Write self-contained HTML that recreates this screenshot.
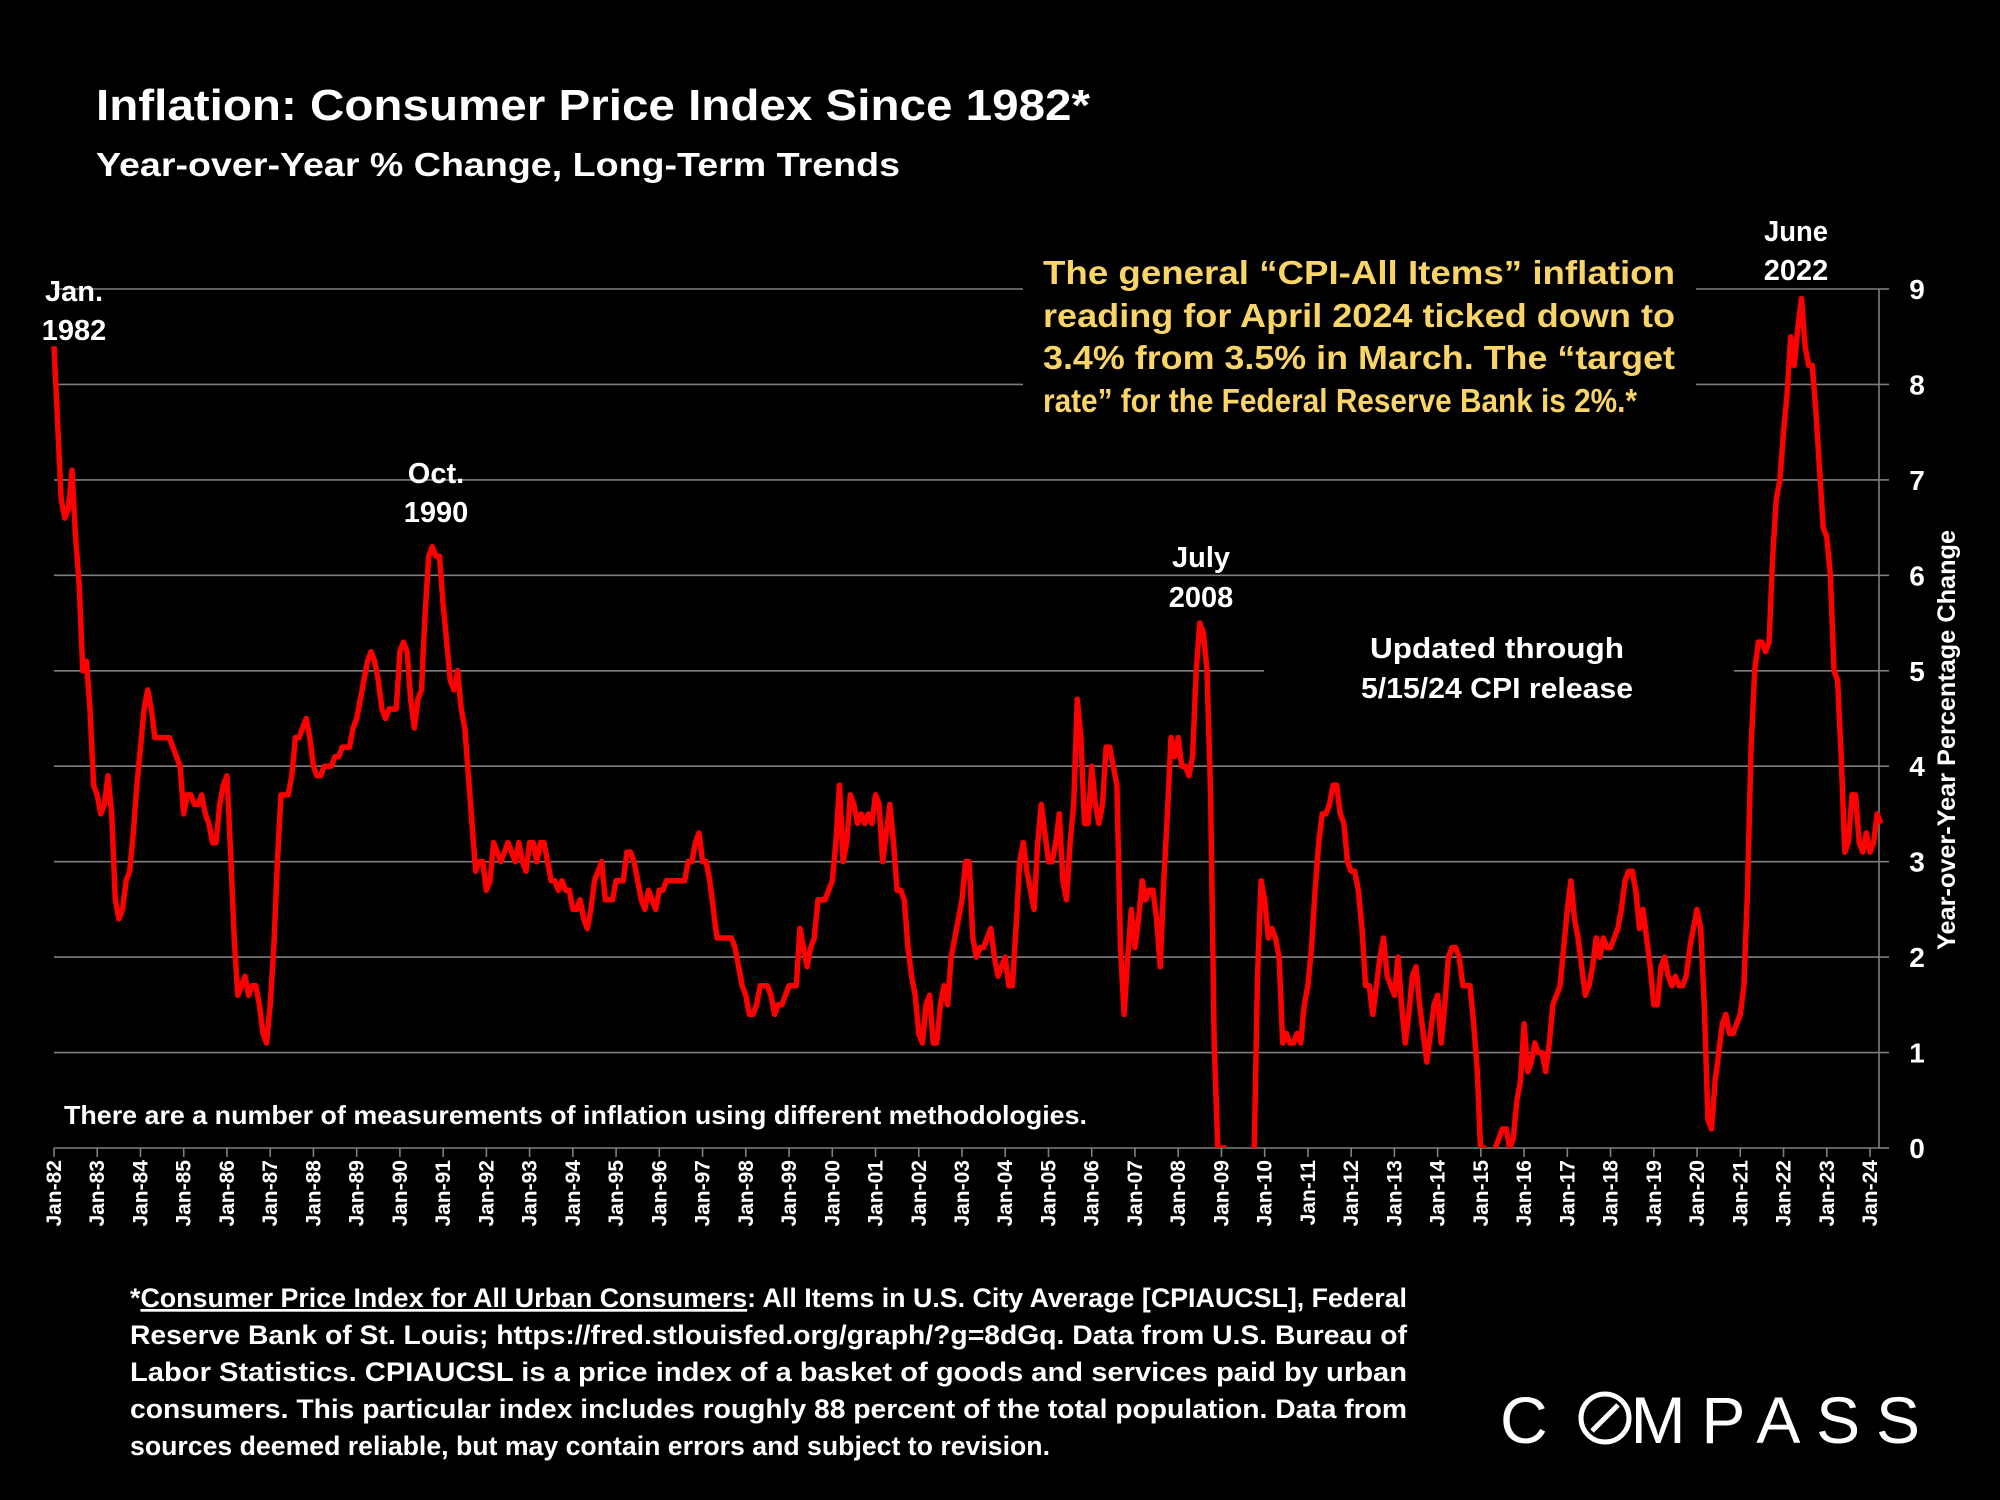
<!DOCTYPE html>
<html><head><meta charset="utf-8"><style>
html,body{margin:0;padding:0;background:#000;}
svg{display:block;font-family:"Liberation Sans",sans-serif;font-weight:bold;}
</style></head><body>
<svg id="chart" width="2000" height="1500" viewBox="0 0 2000 1500">
<rect width="2000" height="1500" fill="#000"/>
<text x="96" y="120" font-size="44" fill="#fff" textLength="994" lengthAdjust="spacingAndGlyphs">Inflation: Consumer Price Index Since 1982*</text>
<text x="96" y="176" font-size="33" fill="#fff" textLength="804" lengthAdjust="spacingAndGlyphs">Year-over-Year % Change, Long-Term Trends</text>
<g id="grid"></g>
<g id="xaxis"></g>
<g id="yaxis"></g>
<defs><clipPath id="plotclip"><rect x="40" y="250" width="1850" height="898"/></clipPath></defs>
<g id="series" clip-path="url(#plotclip)"></g>
<g>
<rect x="1030" y="240" width="660" height="180" fill="#000"/>
<g font-size="33" fill="#f9d466">
<text x="1043" y="284" textLength="632" lengthAdjust="spacingAndGlyphs">The general “CPI-All Items” inflation</text>
<text x="1043" y="327" textLength="632" lengthAdjust="spacingAndGlyphs">reading for April 2024 ticked down to</text>
<text x="1043" y="369" textLength="632" lengthAdjust="spacingAndGlyphs">3.4% from 3.5% in March. The “target</text>
<text x="1043" y="412" textLength="594" lengthAdjust="spacingAndGlyphs">rate” for the Federal Reserve Bank is 2%.*</text>
</g></g>
<rect x="1264" y="630" width="470" height="80" fill="#000"/>
<g font-size="29" fill="#fff" text-anchor="middle">
<text x="1796" y="241" textLength="64" lengthAdjust="spacingAndGlyphs">June</text>
<text x="1796" y="280">2022</text>
<text x="74" y="301">Jan.</text>
<text x="74" y="340">1982</text>
<text x="436" y="483">Oct.</text>
<text x="436" y="522">1990</text>
<text x="1201" y="567">July</text>
<text x="1201" y="607">2008</text>
<text x="1497" y="658" textLength="254" lengthAdjust="spacingAndGlyphs">Updated through</text>
<text x="1497" y="698" textLength="272" lengthAdjust="spacingAndGlyphs">5/15/24 CPI release</text>
</g>
<text x="64" y="1124" font-size="26" fill="#fff" textLength="1023" lengthAdjust="spacingAndGlyphs">There are a number of measurements of inflation using different methodologies.</text>
<text transform="translate(1955,740) rotate(-90)" text-anchor="middle" font-size="25" fill="#fff" textLength="420" lengthAdjust="spacingAndGlyphs">Year-over-Year Percentage Change</text>
<g font-size="27" fill="#fff">
<text x="130" y="1307" textLength="1277" lengthAdjust="spacingAndGlyphs">*<tspan text-decoration="underline">Consumer Price Index for All Urban Consumers</tspan>: All Items in U.S. City Average [CPIAUCSL], Federal</text>
<text x="130" y="1344" textLength="1277" lengthAdjust="spacingAndGlyphs">Reserve Bank of St. Louis; https://fred.stlouisfed.org/graph/?g=8dGq. Data from U.S. Bureau of</text>
<text x="130" y="1381" textLength="1277" lengthAdjust="spacingAndGlyphs">Labor Statistics. CPIAUCSL is a price index of a basket of goods and services paid by urban</text>
<text x="130" y="1418" textLength="1277" lengthAdjust="spacingAndGlyphs">consumers. This particular index includes roughly 88 percent of the total population. Data from</text>
<text x="130" y="1455" textLength="920" lengthAdjust="spacingAndGlyphs">sources deemed reliable, but may contain errors and subject to revision.</text>
</g>
<g fill="#fff">
<text x="1500" y="1443" font-size="66" font-weight="normal" textLength="420" lengthAdjust="spacing" fill="#fff">C<tspan fill="#000">O</tspan>MPASS</text>
<circle cx="1605" cy="1418" r="24" fill="none" stroke="#fff" stroke-width="5"/>
<line x1="1592" y1="1431" x2="1618" y2="1405" stroke="#fff" stroke-width="5"/>
</g>
</svg>
<script>
const yTicks=[0,1,2,3,4,5,6,7,8,9];
const xTickYears=["82","83","84","85","86","87","88","89","90","91","92","93","94","95","96","97","98","99","00","01","02","03","04","05","06","07","08","09","10","11","12","13","14","15","16","17","18","19","20","21","22","23","24"];
const startYear=1982;
const cpi1982=[8.4,7.6,6.8,6.6,6.7,7.1,6.4,5.9,5.0,5.1,4.6,3.8];
const cpi1983=[3.7,3.5,3.6,3.9,3.5,2.6,2.4,2.5,2.8,2.9,3.3,3.8];
const cpi1984=[4.2,4.6,4.8,4.6,4.3,4.3,4.3,4.3,4.3,4.2,4.1,4.0];
const cpi1985=[3.5,3.7,3.7,3.6,3.6,3.7,3.5,3.4,3.2,3.2,3.6,3.8];
const cpi1986=[3.9,3.1,2.2,1.6,1.7,1.8,1.6,1.7,1.7,1.5,1.2,1.1];
const cpi1987=[1.5,2.1,3.0,3.7,3.7,3.7,3.9,4.3,4.3,4.4,4.5,4.3];
const cpi1988=[4.0,3.9,3.9,4.0,4.0,4.0,4.1,4.1,4.2,4.2,4.2,4.4];
const cpi1989=[4.5,4.7,4.9,5.1,5.2,5.1,4.9,4.6,4.5,4.6,4.6,4.6];
const cpi1990=[5.2,5.3,5.2,4.7,4.4,4.7,4.8,5.6,6.2,6.3,6.2,6.2];
const cpi1991=[5.7,5.3,4.9,4.8,5.0,4.6,4.4,3.9,3.4,2.9,3.0,3.0];
const cpi1992=[2.7,2.8,3.2,3.1,3.0,3.1,3.2,3.1,3.0,3.2,3.0,2.9];
const cpi1993=[3.2,3.2,3.0,3.2,3.2,3.0,2.8,2.8,2.7,2.8,2.7,2.7];
const cpi1994=[2.5,2.5,2.6,2.4,2.3,2.5,2.8,2.9,3.0,2.6,2.6,2.6];
const cpi1995=[2.8,2.8,2.8,3.1,3.1,3.0,2.8,2.6,2.5,2.7,2.6,2.5];
const cpi1996=[2.7,2.7,2.8,2.8,2.8,2.8,2.8,2.8,3.0,3.0,3.2,3.3];
const cpi1997=[3.0,3.0,2.8,2.5,2.2,2.2,2.2,2.2,2.2,2.1,1.9,1.7];
const cpi1998=[1.6,1.4,1.4,1.5,1.7,1.7,1.7,1.6,1.4,1.5,1.5,1.6];
const cpi1999=[1.7,1.7,1.7,2.3,2.1,1.9,2.1,2.2,2.6,2.6,2.6,2.7];
const cpi2000=[2.8,3.2,3.8,3.0,3.2,3.7,3.6,3.4,3.5,3.4,3.5,3.4];
const cpi2001=[3.7,3.6,3.0,3.3,3.6,3.2,2.7,2.7,2.6,2.1,1.8,1.6];
const cpi2002=[1.2,1.1,1.5,1.6,1.1,1.1,1.5,1.7,1.5,2.0,2.2,2.4];
const cpi2003=[2.6,3.0,3.0,2.2,2.0,2.1,2.1,2.2,2.3,2.0,1.8,1.9];
const cpi2004=[2.0,1.7,1.7,2.3,3.0,3.2,2.9,2.7,2.5,3.2,3.6,3.3];
const cpi2005=[3.0,3.0,3.2,3.5,2.8,2.6,3.2,3.6,4.7,4.3,3.4,3.4];
const cpi2006=[4.0,3.6,3.4,3.6,4.2,4.2,4.0,3.8,2.1,1.4,2.0,2.5];
const cpi2007=[2.1,2.4,2.8,2.6,2.7,2.7,2.4,1.9,2.8,3.5,4.3,4.1];
const cpi2008=[4.3,4.0,4.0,3.9,4.1,5.0,5.5,5.4,5.0,3.7,1.1,0.0];
const cpi2009=[0.0,0.0,-0.4,-0.6,-1.0,-1.4,-2.0,-1.5,-1.3,-0.2,1.8,2.8];
const cpi2010=[2.6,2.2,2.3,2.2,2.0,1.1,1.2,1.1,1.1,1.2,1.1,1.5];
const cpi2011=[1.7,2.1,2.7,3.2,3.5,3.5,3.6,3.8,3.8,3.5,3.4,3.0];
const cpi2012=[2.9,2.9,2.7,2.3,1.7,1.7,1.4,1.7,2.0,2.2,1.8,1.7];
const cpi2013=[1.6,2.0,1.5,1.1,1.4,1.8,1.9,1.5,1.2,0.9,1.2,1.5];
const cpi2014=[1.6,1.1,1.5,2.0,2.1,2.1,2.0,1.7,1.7,1.7,1.3,0.8];
const cpi2015=[-0.1,0.0,-0.1,-0.2,0.0,0.1,0.2,0.2,0.0,0.1,0.5,0.7];
const cpi2016=[1.3,0.8,0.9,1.1,1.0,1.0,0.8,1.1,1.5,1.6,1.7,2.1];
const cpi2017=[2.5,2.8,2.4,2.2,1.9,1.6,1.7,1.9,2.2,2.0,2.2,2.1];
const cpi2018=[2.1,2.2,2.3,2.5,2.8,2.9,2.9,2.7,2.3,2.5,2.2,1.9];
const cpi2019=[1.5,1.5,1.9,2.0,1.8,1.7,1.8,1.7,1.7,1.8,2.1,2.3];
const cpi2020=[2.5,2.3,1.5,0.3,0.2,0.7,1.0,1.3,1.4,1.2,1.2,1.3];
const cpi2021=[1.4,1.7,2.7,4.2,5.0,5.3,5.3,5.2,5.3,6.2,6.8,7.0];
const cpi2022=[7.5,7.9,8.5,8.2,8.6,8.9,8.4,8.2,8.2,7.7,7.1,6.5];
const cpi2023=[6.4,6.0,5.0,4.9,4.1,3.1,3.2,3.7,3.7,3.2,3.1,3.3];
const cpi2024=[3.1,3.2,3.5,3.4];
const cpiValues=[].concat(cpi1982,cpi1983,cpi1984,cpi1985,cpi1986,cpi1987,cpi1988,cpi1989,cpi1990,cpi1991,cpi1992,cpi1993,cpi1994,cpi1995,cpi1996,cpi1997,cpi1998,cpi1999,cpi2000,cpi2001,cpi2002,cpi2003,cpi2004,cpi2005,cpi2006,cpi2007,cpi2008,cpi2009,cpi2010,cpi2011,cpi2012,cpi2013,cpi2014,cpi2015,cpi2016,cpi2017,cpi2018,cpi2019,cpi2020,cpi2021,cpi2022,cpi2023,cpi2024);

const NS="http://www.w3.org/2000/svg";
const X0=54, X1=1879, Y0=1148, Y9=289;
const monthW=(1870-54)/504;
function xScale(i){return X0+i*monthW;}
function yScale(v){return Y0-(v/9)*(Y0-Y9);}
function mk(tag,attrs,parent){const e=document.createElementNS(NS,tag);for(const k in attrs)e.setAttribute(k,attrs[k]);parent.appendChild(e);return e;}

const grid=document.getElementById('grid');
const yaxis=document.getElementById('yaxis');
yTicks.forEach(t=>{
  const y=yScale(t);
  if(t>0){
    let segs=[[X0,X1]];
    if(t===9||t===8) segs=[[X0,1023],[1696,X1]];
    if(t===5) segs=[[X0,1264],[1734,X1]];
    segs.forEach(s=>{
      const l=mk('line',{x1:s[0],x2:s[1],y1:y,y2:y,stroke:'#7f7f7f','stroke-width':1.6},grid);
      
      
    });
  }
  const tk=mk('line',{x1:X1,x2:X1+10,y1:y,y2:y,stroke:'#7f7f7f','stroke-width':1.6},yaxis);
  
  
  const lb=mk('text',{x:1917,y:y+10,'text-anchor':'middle','font-size':28,fill:'#fff'},yaxis);
  lb.textContent=t;
  
  
});
const ax=mk('line',{x1:X1,x2:X1,y1:Y9,y2:Y0,stroke:'#7f7f7f','stroke-width':1.6},yaxis);



const xaxis=document.getElementById('xaxis');
const xl=mk('line',{x1:X0,x2:X1,y1:Y0,y2:Y0,stroke:'#7f7f7f','stroke-width':1.6},xaxis);


xTickYears.forEach((yr,k)=>{
  const x=xScale(k*12);
  const t=mk('line',{x1:x,x2:x,y1:Y0,y2:Y0+9,stroke:'#7f7f7f','stroke-width':1.6},xaxis);
  
  
  const lb=mk('text',{transform:'translate('+(x+7)+','+(Y0+12)+') rotate(-90)','text-anchor':'end','font-size':21,fill:'#fff'},xaxis);
  lb.textContent='Jan-'+yr;
  
  
});

const series=document.getElementById('series');
const d=cpiValues.map((v,i)=>(i?'L':'M')+xScale(i).toFixed(1)+','+yScale(v).toFixed(1)).join(' ');
const p=mk('path',{d:d,fill:'none',stroke:'#ff0000','stroke-width':5.5,'stroke-linejoin':'round'},series);


</script>
</body></html>
